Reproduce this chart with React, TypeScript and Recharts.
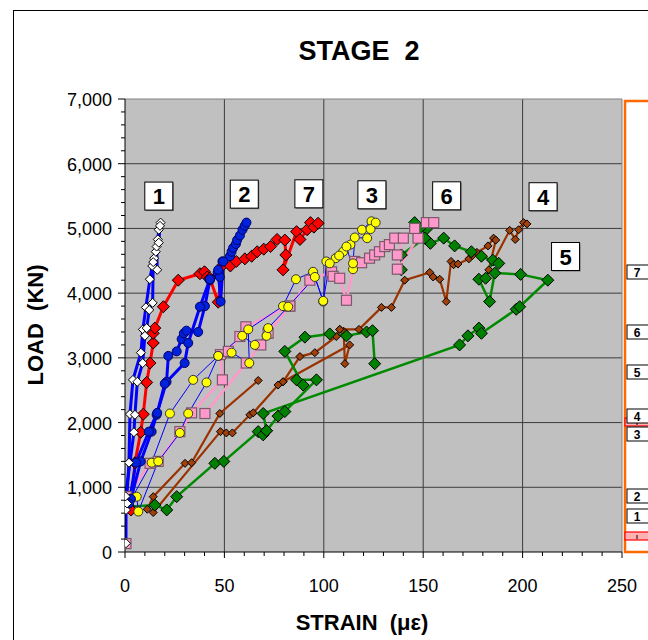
import React from 'react';
import {
  ComposedChart,
  Line,
  XAxis,
  YAxis,
  CartesianGrid,
  ReferenceLine,
  ReferenceDot
} from 'recharts';

type Pt = [number, number]; // [strain (με), load (KN)]

// gauge 1 (white diamonds), two strands
const gauge1A: Pt[] = [[0.5,135],[0.5,650],[2,1380],[2.5,2130],[4,2660],[8,3080],[9,3440],[10.5,3780],[12.5,4215],[13.7,4420],[14.7,4540],[15.5,4640],[16.5,4830],[17,4980],[17.9,5090]];
const gauge1B: Pt[] = [[1,750],[0.3,860],[4.5,1850],[5,2120],[6.2,2630],[8.9,2920],[10,3340],[10.9,3460],[12.2,3740],[13.9,3850],[14.2,4480],[16.2,4360],[15.9,4720],[17,4780],[17.6,5040]];
// gauge 2 (blue circles)
const gauge2A: Pt[] = [[3,820],[7.9,1400],[13.4,1860],[15.9,2120],[20.9,2630],[21.8,3030],[26,3100],[28.5,3290],[29.6,3380],[30.9,3420],[36.8,3400],[40.2,3800],[42.7,4200],[46.6,4320],[47.7,4250],[49,4490],[52.8,4570],[53.6,4640],[54.4,4700],[55.8,4760],[56.4,4820],[57.8,4890],[59.1,4980],[60.2,5040],[61.1,5090]];
const gauge2B: Pt[] = [[2,750],[5.5,1380],[12,1860],[16.2,2150],[20,2600],[30,2920],[31.8,3230],[37.7,3790],[42.7,4215],[46.9,4360],[48.1,3870],[49.4,4490]];
// gauge 3 (yellow circles)
const gauge3A: Pt[] = [[3.4,830],[13.4,1380],[22.6,2140],[34.3,2660],[46.9,3030],[53.6,3080],[62.5,2920],[62,3440],[79.5,3800],[86,4215],[94.6,4330],[99.7,3870],[101.3,4490],[106,4540],[109.7,4640],[113.4,4750],[119.2,4980],[124,5110]];
const gauge3B: Pt[] = [[5.9,855],[6.7,625],[16.7,1400],[27.6,1840],[31.8,2140],[41,2620],[46.9,3030],[59,3340],[65.3,3200],[71.2,3340],[72,3460],[82.1,3790],[95.5,4250],[99.7,3880],[103,4460],[107.7,4580],[111.4,4720],[114.7,4370],[114.7,4460],[115.6,4860],[121.8,4850],[123.5,4990],[126.1,5090]];
// gauge 4 (brown small diamonds)
const gauge4A: Pt[] = [[11.2,660],[14.2,855],[30.2,1370],[33.5,1380],[47.7,2140],[67,2650]];
const gauge4B: Pt[] = [[14.2,610],[48,1860],[51,1840],[54,1840],[62.8,2120],[64.5,2150],[77,2580],[79.5,2630],[113,3200],[110.6,2910],[110,3410],[108,3440],[117.7,3440],[129,3780],[134,3780],[140.7,4200],[153.3,4320],[155,4250],[158.3,4215],[161.6,3870],[164,4490],[165.3,4440],[167.5,4450],[173,4530],[174.7,4580],[177,4630],[182.6,4730],[185.4,4850],[186.5,4820],[183,4360],[193.5,4970],[196.3,4830],[198,4980],[200.5,5090],[202.2,5070]];
const gauge4C: Pt[] = [[79.5,2630],[88,3020],[95.5,3080],[106.3,3330],[108,3440]];
// gauge 5 (green diamonds)
const gauge5A: Pt[] = [[2,700],[15,725],[21,650],[26,855],[45.2,1370],[49.7,1400],[67,1860],[69.5,1810],[71.2,1875],[69.5,2140],[168.3,3200],[172.5,3340],[178,3460],[179.3,3380],[196.8,3750],[198.5,3790],[212.7,4200],[199,4290],[186,4310],[183.4,3870],[178,4215],[181.4,4230],[185,4510],[188,4460],[179.3,4570],[174.2,4640],[165.8,4730],[160.3,4850],[153.6,4770],[150.8,4850],[151.6,4990],[148.2,5000],[145.7,5090]];
const gauge5B: Pt[] = [[71.2,1875],[77,2100],[80.4,2170],[96.3,2660],[86.3,2660],[89.6,2580],[80.4,3100],[90.5,3320],[103,3370],[111.4,3340],[121.5,3400],[124.5,3420],[125.6,2910]];
const gauge5C: Pt[] = [[139,4360],[139,4590],[150.8,4850]];
// gauge 6 (pink squares)
const gauge6A: Pt[] = [[0.5,130],[0.8,855],[12.6,1370],[16.7,1400],[27.6,1860],[33.5,2150],[49,2660],[48,3050],[52,3100],[57.8,3330],[60.8,3480],[82.9,3800],[93,4200],[103.9,4330],[104.7,4260],[108,4230],[111.4,3890],[115.6,4490],[119,4470],[123,4540],[125.6,4590],[128,4640],[130.7,4720],[133,4750],[135.7,4850],[140,4850],[137,4590],[137,4370],[147.4,4850],[145.7,5000],[151.6,5090],[155.3,5090]];
const gauge6B: Pt[] = [[40.2,2140],[61,2920],[68.3,3200],[72,3380],[82.9,3800]];
// gauge 7 (red diamonds)
const gauge7: Pt[] = [[3,650],[5,1380],[7.9,1850],[9.2,2130],[10.9,2620],[12.6,2920],[14.2,3230],[14.2,3380],[15,3460],[19.3,3790],[26.8,4200],[37.7,4300],[40,4330],[41.4,4250],[42.7,4230],[46.9,3860],[49.4,4440],[53,4420],[56,4490],[60.3,4530],[63.7,4570],[66.5,4640],[69.8,4680],[73.2,4720],[76.5,4830],[80.4,4820],[80.9,4590],[79.5,4360],[86.3,4950],[88,4830],[91.6,4980],[93.3,5090],[95,5020],[97.1,5080]];

// gauge tags on the plot
const tagNames = ['1', '2', '7', '3', '6', '4', '5'];
const tagStrain = [17, 60, 92.5, 124.2, 161.8, 210.3, 221.6];
const tagLoad = [5500, 5530, 5535, 5520, 5504, 5490, 4566];

const strainTicks = Array.from({ length: 26 }, (_, i) => i * 10);
const loadTicks = Array.from({ length: 36 }, (_, i) => i * 200);
const strainGrid = [50, 100, 150, 200];
const loadGrid = [1000, 2000, 3000, 4000, 5000, 6000];

const FONT = '"Liberation Sans", Arial, sans-serif';

const rows = (pts: Pt[]) => pts.map(([x, y]) => ({ strain: x, load: y }));

const marker = (kind: string, size: number, fill: string, stroke: string) => (p: any) => {
  const { cx, cy, index } = p;
  if (cx == null || cy == null) return <g key={index} />;
  const h = size / 2;
  if (kind === 'diamond') {
    return (
      <polygon key={index} points={`${cx},${cy - h} ${cx + h},${cy} ${cx},${cy + h} ${cx - h},${cy}`}
        fill={fill} stroke={stroke} strokeWidth={1} />
    );
  }
  if (kind === 'square') {
    return <rect key={index} x={cx - h} y={cy - h} width={size} height={size} fill={fill} stroke={stroke} strokeWidth={1.2} />;
  }
  return <circle key={index} cx={cx} cy={cy} r={h} fill={fill} stroke={stroke} strokeWidth={1} />;
};

// draw order: first is at the bottom
const series = [
  { id: '4a', pts: gauge4A, color: '#993300', width: 2.2, dot: marker('diamond', 8, '#a0400a', '#000') },
  { id: '4b', pts: gauge4B, color: '#993300', width: 2.2, dot: marker('diamond', 8, '#a0400a', '#000') },
  { id: '4c', pts: gauge4C, color: '#993300', width: 2.2, dot: marker('diamond', 8, '#a0400a', '#000') },
  { id: '5a', pts: gauge5A, color: '#008a00', width: 2.5, dot: marker('diamond', 12, '#008000', '#000') },
  { id: '5b', pts: gauge5B, color: '#008a00', width: 2.5, dot: marker('diamond', 12, '#008000', '#000') },
  { id: '5c', pts: gauge5C, color: '#008a00', width: 2.5, dot: marker('diamond', 12, '#008000', '#000') },
  { id: '6a', pts: gauge6A, color: '#ff99cc', width: 2.5, dot: marker('square', 10, '#ff99cc', '#7a5a6a') },
  { id: '6b', pts: gauge6B, color: '#ff99cc', width: 2.5, dot: marker('square', 10, '#ff99cc', '#7a5a6a') },
  { id: '7', pts: gauge7, color: '#ff0000', width: 3, dot: marker('diamond', 12, '#ff0000', '#000') },
  { id: '3a', pts: gauge3A, color: '#0000ff', width: 1, dot: marker('circle', 9, '#ffff00', '#333') },
  { id: '3b', pts: gauge3B, color: '#0000ff', width: 1, dot: marker('circle', 9, '#ffff00', '#333') },
  { id: '2a', pts: gauge2A, color: '#0000ff', width: 3, dot: marker('circle', 9, '#0022dd', '#000066') },
  { id: '2b', pts: gauge2B, color: '#0000ff', width: 3, dot: marker('circle', 9, '#0022dd', '#000066') },
  { id: '1a', pts: gauge1A, color: '#0000ff', width: 3, dot: marker('diamond', 9, '#ffffff', '#000') },
  { id: '1b', pts: gauge1B, color: '#0000ff', width: 3, dot: marker('diamond', 9, '#ffffff', '#000') }
];

const XTick = (p: any) => {
  const { x, y, payload } = p;
  const v = payload.value;
  const major = v % 50 === 0;
  return (
    <g>
      <line x1={x} x2={x} y1={y} y2={y + (major ? 6 : 4)} stroke="#000" />
      {major && (
        <text x={x} y={y + 40} textAnchor="middle" fontSize={18} fontFamily={FONT} fill="#000">{v}</text>
      )}
    </g>
  );
};

const YTick = (p: any) => {
  const { x, y, payload } = p;
  const v = payload.value;
  const major = v % 1000 === 0;
  return (
    <g>
      <line x1={x - (major ? 7 : 4)} x2={x} y1={y} y2={y} stroke="#000" />
      {major && (
        <text x={x - 13} y={y + 7} textAnchor="end" fontSize={18} fontFamily={FONT} fill="#000">
          {v.toLocaleString('en-US')}
        </text>
      )}
    </g>
  );
};

const TagBox = (label: string) => (p: any) => {
  const { cx, cy } = p;
  return (
    <g>
      <rect x={cx - 13} y={cy - 13} width={28} height={28} fill="#777" />
      <rect x={cx - 14} y={cy - 14} width={28} height={28} fill="#fff" stroke="#000" strokeWidth={1} />
      <text x={cx} y={cy + 8} textAnchor="middle" fontSize={22} fontWeight="bold" fontFamily={FONT} fill="#000">{label}</text>
    </g>
  );
};

// right-hand key strip
const stripNames = ['7', '6', '5', '4', '3', '2', '1'];
const stripTop = [265, 325, 365, 409, 427, 489, 509];
const stripMarks = [418, 532];

export default function App() {
  return (
    <div style={{ position: 'absolute', left: 0, top: 0, width: 648, height: 640, overflow: 'hidden', background: '#fff' }}>
      <ComposedChart width={648} height={640} margin={{ top: 99, right: 26, bottom: 58, left: 0 }}>
        <CartesianGrid fill="#c0c0c0" horizontal={false} vertical={false} />
        <XAxis
          dataKey="strain"
          type="number"
          domain={[0, 250]}
          ticks={strainTicks}
          interval={0}
          height={30}
          tick={<XTick />}
          tickLine={false}
          tickSize={0}
          tickMargin={0}
          axisLine={{ stroke: '#000' }}
          allowDataOverflow
        />
        <YAxis
          type="number"
          domain={[0, 7000]}
          ticks={loadTicks}
          interval={0}
          width={125}
          tick={<YTick />}
          tickLine={false}
          tickSize={0}
          tickMargin={0}
          axisLine={{ stroke: '#000' }}
          allowDataOverflow
        />
        {loadGrid.map(v => (
          <ReferenceLine key={'h' + v} y={v} stroke="#3c3c3c" strokeWidth={1} />
        ))}
        {strainGrid.map(v => (
          <ReferenceLine key={'v' + v} x={v} stroke="#3c3c3c" strokeWidth={1} />
        ))}
        <ReferenceLine y={7000} stroke="#808080" strokeWidth={1} />
        <ReferenceLine x={250} stroke="#808080" strokeWidth={1} />
        {series.map(s => (
          <Line
            key={s.id}
            data={rows(s.pts)}
            dataKey="load"
            type="linear"
            stroke={s.color}
            strokeWidth={s.width}
            dot={s.dot}
            activeDot={false}
            isAnimationActive={false}
          />
        ))}
        {tagNames.map((t, i) => (
          <ReferenceDot key={'tag' + t} x={tagStrain[i]} y={tagLoad[i]} r={0} shape={TagBox(t)} />
        ))}
      </ComposedChart>
      <svg width={648} height={640} style={{ position: 'absolute', left: 0, top: 0, pointerEvents: 'none' }}>
        <rect x={13.5} y={10.5} width={700} height={700} fill="none" stroke="#000" strokeWidth={1} />
        <text x={359} y={60} textAnchor="middle" fontSize={27} fontWeight="bold" fontFamily={FONT}>
          {'STAGE\u00a0\u00a02'}
        </text>
        <text x={362} y={630} textAnchor="middle" fontSize={22} fontWeight="bold" fontFamily={FONT}>
          {'STRAIN\u00a0\u00a0(\u03bc\u03b5)'}
        </text>
        <text x={35} y={325} textAnchor="middle" fontSize={22} fontWeight="bold" fontFamily={FONT}
          transform="rotate(-90 35 325)" dominantBaseline="central">
          {'LOAD\u00a0\u00a0(KN)'}
        </text>
        <rect x={625} y={101} width={40} height={451} fill="#fff" stroke="#ff6a00" strokeWidth={2.5} />
        {stripMarks.map(y => (
          <g key={'m' + y}>
            <rect x={625} y={y} width={30} height={8} fill="#ffb0b0" stroke="#ff0000" strokeWidth={1.2} />
            <line x1={637} x2={637} y1={y + 3} y2={y + 7} stroke="#000" />
          </g>
        ))}
        {stripNames.map((n, i) => (
          <g key={'s' + n}>
            <rect x={627} y={stripTop[i]} width={22} height={14} fill="#fff" stroke="#000" strokeWidth={1} />
            <text x={637} y={stripTop[i] + 11.5} textAnchor="middle" fontSize={12} fontWeight="bold" fontFamily={FONT}>{n}</text>
          </g>
        ))}
      </svg>
    </div>
  );
}
